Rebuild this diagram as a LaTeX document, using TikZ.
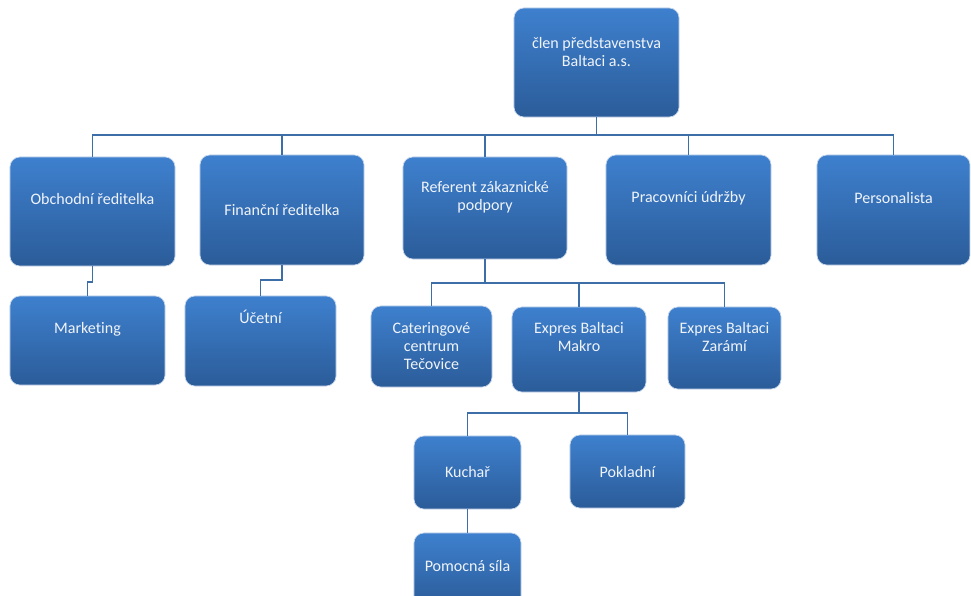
\documentclass[tikz,border=0pt]{standalone}
\usepackage{fontspec}
\setmainfont{Carlito}[Ligatures=NoCommon]
\usetikzlibrary{positioning}
\definecolor{boxtop}{RGB}{62,128,206}
\definecolor{boxbot}{RGB}{43,92,153}
\definecolor{edge}{RGB}{200,215,235}
\definecolor{wire}{RGB}{62,110,168}
\definecolor{ink}{RGB}{240,244,250}
\tikzset{
  box/.style={draw=edge, line width=0.5pt, rounded corners=7pt,
              top color=boxtop, bottom color=boxbot, inner sep=0pt},
  txt/.style={align=center, text=ink, font=\fontsize{11.4}{13}\selectfont},
  wire/.style={draw=wire, line width=1.3pt},
}

\begin{document}
\begin{tikzpicture}[x=0.025cm, y=-0.025cm]
  \clip (0,0) rectangle (971,596);

  % boxes (pixel coordinates)
  \node[box, minimum width=4.125cm, minimum height=2.725cm] (clen)  at (596.5,62.5) {};
  \node[box, minimum width=4.125cm, minimum height=2.725cm] (obch)  at (92.5,211.5) {};
  \node[box, minimum width=4.1cm,   minimum height=2.75cm]  (fin)   at (282,210) {};
  \node[box, minimum width=4.1cm,   minimum height=2.55cm]  (ref)   at (485,208) {};
  \node[box, minimum width=4.125cm, minimum height=2.75cm]  (prac)  at (688.5,210) {};
  \node[box, minimum width=3.825cm, minimum height=2.75cm]  (pers)  at (893.5,210) {};
  \node[box, minimum width=3.875cm, minimum height=2.225cm] (mkt)   at (87.5,340.5) {};
  \node[box, minimum width=3.775cm, minimum height=2.25cm]  (uct)   at (260.5,341) {};
  \node[box, minimum width=3.025cm, minimum height=2.025cm] (cat)   at (431.5,346.5) {};
  \node[box, minimum width=3.35cm,  minimum height=2.125cm] (makro) at (579,349.5) {};
  \node[box, minimum width=2.825cm, minimum height=2.05cm]  (zar)   at (724.5,348) {};
  \node[box, minimum width=2.675cm, minimum height=1.825cm] (kuch)  at (467.5,472.5) {};
  \node[box, minimum width=2.875cm, minimum height=1.825cm] (pokl)  at (627.5,471.5) {};
  \node[box, minimum width=2.675cm, minimum height=1.825cm] (pom)   at (467.5,569.5) {};

  % labels
  \node[txt] (clen-t)  at (596.5,52)  {člen představenstva\\Baltaci a.s.};
  \node[txt] (obch-t)  at (92.5,199)  {Obchodní ředitelka};
  \node[txt] (fin-t)   at (282,210)   {Finanční ředitelka};
  \node[txt] (ref-t)   at (485,197)   {Referent zákaznické\\podpory};
  \node[txt] (prac-t)  at (688.5,198) {Pracovníci údržby};
  \node[txt] (pers-t)  at (893.5,198) {Personalista};
  \node[txt] (mkt-t)   at (87.5,329)  {Marketing};
  \node[txt] (uct-t)   at (260.5,317) {Účetní};
  \node[txt] (cat-t)   at (431.5,346) {Cateringové\\centrum\\Tečovice};
  \node[txt] (makro-t) at (579,337)   {Expres Baltaci\\Makro};
  \node[txt] (zar-t)   at (724.5,337) {Expres Baltaci\\Zarámí};
  \node[txt] (kuch-t)  at (467.5,472) {Kuchař};
  \node[txt] (pokl-t)  at (627.5,472) {Pokladní};
  \node[txt] (pom-t)   at (467.5,566) {Pomocná síla};

  % connectors
  \foreach \n in {obch,fin,ref,prac,pers}
    \draw[wire] (clen.south) -- ++(0,18) -| (\n.north);
  \draw[wire] (obch.south) -- ++(0,16) -| (mkt.north);
  \draw[wire] (fin.south) -- ++(0,15) -| (uct.north);
  \foreach \n in {cat,makro,zar}
    \draw[wire] (ref.south) -- ++(0,24) -| (\n.north);
  \foreach \n in {kuch,pokl}
    \draw[wire] (makro.south) -- ++(0,21) -| (\n.north);
  \draw[wire] (kuch) -- (pom);
\end{tikzpicture}
\end{document}
